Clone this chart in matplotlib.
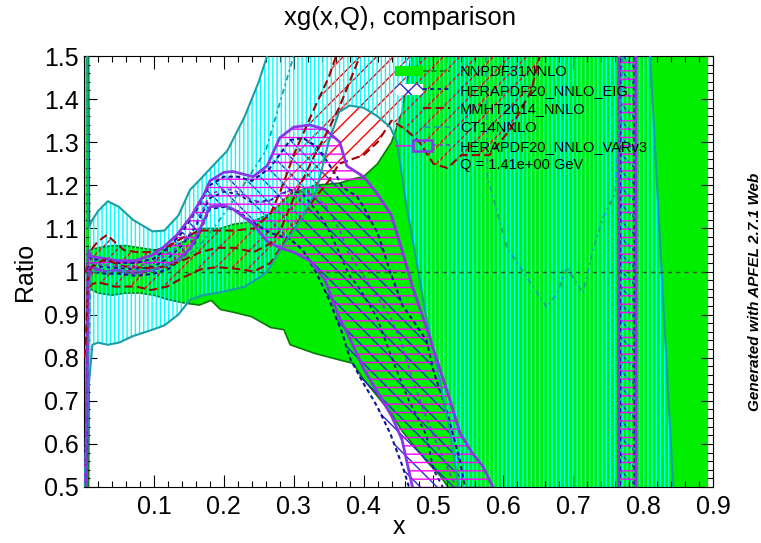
import matplotlib
matplotlib.use('Agg')
import matplotlib.pyplot as plt
from matplotlib.patches import Patch
from matplotlib.lines import Line2D
from matplotlib.legend_handler import HandlerTuple
from matplotlib.ticker import MultipleLocator, FixedLocator

plt.rcParams['font.family'] = ['Liberation Sans', 'DejaVu Sans']
plt.rcParams['hatch.linewidth'] = 1.0

# ---------------- data ----------------
labels = ["NNPDF31NNLO", "HERAPDF20_NNLO_EIG", "MMHT2014_NNLO", "CT14NNLO",
          "HERAPDF20_NNLO_VARv3", "Q = 1.41e+00 GeV"]
x_ticks = [0.1, 0.2, 0.3, 0.4, 0.5, 0.6, 0.7, 0.8, 0.9]
y_ticks = [0.5, 0.6, 0.7, 0.8, 0.9, 1.0, 1.1, 1.2, 1.3, 1.4, 1.5]
y_ticklabels = ["0.5", "0.6", "0.7", "0.8", "0.9", "1", "1.1", "1.2", "1.3", "1.4", "1.5"]

# NNPDF31NNLO (reference, central = 1)
nn_x = [0.0005, 0.005, 0.008, 0.02, 0.04, 0.06, 0.08, 0.10, 0.12, 0.143, 0.165, 0.182, 0.195,
        0.215, 0.24, 0.267, 0.286, 0.295, 0.33, 0.365, 0.385, 0.40, 0.42, 0.44, 0.455, 0.47,
        0.49, 0.51, 0.525, 0.55, 0.70, 0.893]
nn_hi = [2.0, 2.0, 1.05, 1.055, 1.06, 1.06, 1.055, 1.05, 1.055, 1.07, 1.10, 1.10, 1.10,
         1.11, 1.115, 1.135, 1.165, 1.18, 1.20, 1.205, 1.215, 1.22, 1.25, 1.30, 1.37, 1.52,
         2.0, 2.0, 2.0, 2.0, 2.0, 2.0]
nn_lo = [0.0, 0.0, 0.96, 0.95, 0.945, 0.95, 0.95, 0.945, 0.935, 0.927, 0.922, 0.933, 0.912,
         0.905, 0.895, 0.87, 0.865, 0.83, 0.81, 0.795, 0.787, 0.75, 0.71, 0.67, 0.63, 0.60,
         0.56, 0.525, 0.49, 0.3, 0.3, 0.3]
nn_cx = [0.0005, 0.893]
nn_c = [1.0, 1.0]

# HERAPDF20_NNLO_EIG
eg_x = [0.0005, 0.003, 0.006, 0.01, 0.03, 0.05, 0.075, 0.10, 0.12, 0.14, 0.16, 0.18, 0.20,
        0.22, 0.24, 0.266, 0.295, 0.313, 0.333, 0.342, 0.352, 0.362, 0.37, 0.38, 0.39, 0.40,
        0.413, 0.42, 0.438, 0.456, 0.465, 0.49, 0.50, 0.52, 0.538, 0.545, 0.56, 0.767, 0.768,
        0.787, 0.788, 0.893]
eg_hi = [0.4, 0.55, 1.04, 1.03, 1.025, 1.02, 1.02, 1.03, 1.055, 1.09, 1.14, 1.2, 1.22,
         1.22, 1.21, 1.24, 1.305, 1.31, 1.29, 1.27, 1.245, 1.22, 1.195, 1.185, 1.175, 1.15,
         1.11, 1.09, 1.0, 0.92, 0.9, 0.84, 0.77, 0.67, 0.56, 0.5, 0.4, 0.4, 3.0,
         3.0, 0.4, 0.4]
eg_lo = [0.3, 0.45, 0.98, 1.0, 0.995, 0.995, 0.99, 0.995, 1.005, 1.03, 1.07, 1.145, 1.15,
         1.14, 1.115, 1.09, 1.075, 1.05, 0.995, 0.965, 0.93, 0.887, 0.855, 0.80, 0.77, 0.74,
         0.705, 0.685, 0.625, 0.547, 0.5, 0.4, 0.3, 0.3, 0.3, 0.3, 0.3, 0.3, -1.0,
         -1.0, 0.3, 0.3]
eg_c = [0.35, 0.5, 1.01, 1.015, 1.01, 1.008, 1.005, 1.012, 1.03, 1.06, 1.105, 1.17, 1.185,
        1.18, 1.16, 1.165, 1.19, 1.18, 1.14, 1.12, 1.09, 1.055, 1.025, 0.99, 0.97, 0.945,
        0.91, 0.89, 0.81, 0.735, 0.70, 0.62, 0.54, 0.48, 0.43, 0.4, 0.35, 0.35, 0.35,
        0.35, 0.35, 0.35]

# MMHT2014_NNLO
mm_x = [0.0005, 0.003, 0.006, 0.01, 0.02, 0.033, 0.043, 0.057, 0.075, 0.096, 0.119, 0.143,
        0.167, 0.19, 0.215, 0.243, 0.267, 0.282, 0.30, 0.33, 0.35, 0.365, 0.40, 0.42, 0.44,
        0.46, 0.48, 0.50, 0.52, 0.54, 0.58, 0.61, 0.64, 0.655, 0.70, 0.893]
mm_hi = [1.0, 1.0, 1.03, 1.05, 1.07, 1.085, 1.07, 1.05, 1.045, 1.045, 1.057, 1.08,
         1.095, 1.095, 1.095, 1.10, 1.135, 1.19, 1.27, 1.38, 1.45, 1.52, 2.0, 2.0, 2.0,
         2.0, 2.0, 2.0, 2.0, 2.0, 2.0, 2.0, 2.0, 2.0, 2.0, 2.0]
mm_lo = [0.5, 0.6, 0.95, 0.97, 0.975, 0.97, 0.965, 0.965, 0.965, 0.957, 0.965, 0.987,
         1.005, 1.01, 1.007, 1.0, 1.02, 1.057, 1.10, 1.17, 1.21, 1.25, 1.27, 1.30, 1.35,
         1.33, 1.30, 1.25, 1.24, 1.27, 1.27, 1.33, 1.42, 1.52, 2.0, 2.0]
mm_c = [0.8, 0.85, 0.99, 1.01, 1.02, 1.03, 1.02, 1.012, 1.01, 1.008, 1.012, 1.027,
        1.045, 1.055, 1.055, 1.045, 1.065, 1.10, 1.17, 1.27, 1.33, 1.38, 1.52, 2.0, 2.0,
        2.0, 2.0, 2.0, 2.0, 2.0, 2.0, 2.0, 2.0, 2.0, 2.0, 2.0]

# CT14NNLO
ct_x = [0.0005, 0.003, 0.006, 0.012, 0.02, 0.034, 0.05, 0.07, 0.098, 0.115, 0.135, 0.152,
        0.17, 0.19, 0.205, 0.23, 0.25, 0.262, 0.285, 0.31, 0.333, 0.35, 0.365, 0.38, 0.40,
        0.42, 0.438, 0.448, 0.46, 0.475, 0.49, 0.505, 0.524, 0.536, 0.60, 0.70, 0.80, 0.81,
        0.843, 0.86]
ct_hi = [2.0, 2.0, 1.10, 1.12, 1.14, 1.163, 1.15, 1.12, 1.093, 1.095, 1.13, 1.19,
         1.22, 1.255, 1.28, 1.36, 1.44, 1.50, 2.0, 2.0, 2.0, 2.0, 2.0, 2.0, 2.0,
         2.0, 2.0, 2.0, 2.0, 2.0, 2.0, 2.0, 2.0, 2.0, 2.0, 2.0, 1.8, 1.5,
         0.5, 0.0]
ct_lo = [0.0, 0.4, 0.72, 0.83, 0.835, 0.83, 0.835, 0.85, 0.865, 0.875, 0.90, 0.935,
         0.945, 0.95, 0.955, 0.965, 0.985, 1.00, 1.06, 1.12, 1.19, 1.30, 1.37, 1.385, 1.38,
         1.36, 1.335, 1.30, 1.165, 1.03, 0.89, 0.78, 0.625, 0.5, 0.0, 0.0, 0.0, 0.0,
         0.0, 0.0]
ct_cx = [0.0005, 0.01, 0.05, 0.10, 0.13, 0.16, 0.19, 0.22, 0.26, 0.30, 0.32, 0.565, 0.575,
         0.577, 0.605, 0.634, 0.662, 0.677, 0.691, 0.705, 0.714, 0.728, 0.743, 0.76, 0.775,
         0.80, 0.893]
ct_c = [0.5, 1.0, 1.0, 1.005, 1.02, 1.05, 1.11, 1.18, 1.28, 1.5, 2.0, 2.0, 1.5,
        1.22, 1.056, 0.986, 0.917, 0.95, 1.01, 0.973, 0.95, 1.05, 1.127, 1.18, 1.6,
        2.0, 2.0]

# HERAPDF20_NNLO_VARv3
va_x = [0.0005, 0.003, 0.006, 0.01, 0.029, 0.047, 0.072, 0.096, 0.114, 0.133, 0.153, 0.172,
        0.18, 0.20, 0.213, 0.242, 0.262, 0.28, 0.30, 0.323, 0.345, 0.366, 0.376, 0.40, 0.42,
        0.44, 0.455, 0.47, 0.49, 0.505, 0.524, 0.538, 0.555, 0.571, 0.585, 0.60, 0.765,
        0.766, 0.789, 0.79, 0.893]
va_hi = [0.45, 0.6, 1.05, 1.035, 1.03, 1.025, 1.025, 1.037, 1.057, 1.085, 1.127, 1.18,
         1.21, 1.23, 1.232, 1.22, 1.245, 1.31, 1.335, 1.34, 1.33, 1.30, 1.245, 1.22, 1.18,
         1.13, 1.05, 0.965, 0.87, 0.795, 0.70, 0.625, 0.58, 0.547, 0.5, 0.4, 0.4,
         3.0, 3.0, 0.4, 0.4]
va_lo = [0.3, 0.45, 0.97, 1.01, 1.0, 1.003, 0.996, 1.003, 1.012, 1.025, 1.055, 1.12,
         1.15, 1.153, 1.145, 1.11, 1.07, 1.055, 1.045, 1.025, 0.98, 0.89, 0.86, 0.775, 0.72,
         0.665, 0.61, 0.5, 0.4, 0.35, 0.3, 0.3, 0.3, 0.3, 0.3, 0.3, 0.3,
         -1.0, -1.0, 0.3, 0.3]
va_c = [0.35, 0.5, 1.0, 1.02, 1.015, 1.012, 1.01, 1.02, 1.035, 1.055, 1.09, 1.15,
        1.18, 1.19, 1.19, 1.165, 1.16, 1.18, 1.19, 1.18, 1.155, 1.095, 1.05, 0.99, 0.94,
        0.89, 0.83, 0.75, 0.66, 0.60, 0.53, 0.48, 0.4, 0.35, 0.35, 0.35, 0.35,
        0.35, 0.35, 0.35, 0.35]

# ---------------- styles ----------------
c_green = '#00ee00'
c_green_dark = '#0a7a0a'
c_blue = '#2a2ad0'
c_navy = '#10109a'
c_red = '#ff0000'
c_red_dark = '#a00000'
c_cyan = '#00ffff'
c_teal = '#1a9ea6'
c_mag = '#ff00ff'
c_purple = '#8a35e8'

W, H = 761, 543
fig = plt.figure(figsize=(W / 100, H / 100), dpi=100)
ax = fig.add_axes([84 / W, 1 - 487 / H, (713 - 84) / W, (487 - 56) / H])

# NNPDF
ax.fill_between(nn_x, nn_lo, nn_hi, facecolor=c_green, edgecolor='none', linewidth=0, zorder=1)
ax.plot(nn_x, nn_hi, color=c_green_dark, lw=1.2, zorder=1.1)
ax.plot(nn_x, nn_lo, color=c_green_dark, lw=1.2, zorder=1.1)

# EIG
ax.fill_between(eg_x, eg_lo, eg_hi, facecolor='none', edgecolor=c_blue, hatch='\\\\',
                linewidth=0, zorder=2)
# MMHT
ax.fill_between(mm_x, mm_lo, mm_hi, facecolor='none', edgecolor=c_red, hatch='//',
                linewidth=0, zorder=2.1)
# CT14
ax.fill_between(ct_x, ct_lo, ct_hi, facecolor='none', edgecolor=c_cyan, hatch='||||',
                linewidth=0, zorder=2.2)
# VAR
ax.fill_between(va_x, va_lo, va_hi, facecolor='none', edgecolor=c_mag, hatch='--',
                linewidth=0, zorder=2.3)

# edges
ax.plot(eg_x, eg_hi, color=c_navy, lw=1.5, ls=(0, (2, 1.5)), zorder=3)
ax.plot(eg_x, eg_lo, color=c_navy, lw=1.5, ls=(0, (2, 1.5)), zorder=3)
ax.plot(mm_x, mm_hi, color=c_red_dark, lw=1.5, ls=(0, (4, 2)), zorder=3)
ax.plot(mm_x, mm_lo, color=c_red_dark, lw=1.5, ls=(0, (4, 2)), zorder=3)
ax.plot(ct_x, ct_hi, color=c_teal, lw=1.5, zorder=3)
ax.plot(ct_x, ct_lo, color=c_teal, lw=1.5, zorder=3)
ax.plot(va_x, va_hi, color=c_purple, lw=2.0, zorder=3.2)
ax.plot(va_x, va_lo, color=c_purple, lw=2.0, zorder=3.2)

# central lines
ax.plot(nn_cx, nn_c, color='#335533', lw=1.0, ls=(0, (3, 3)), zorder=4)
ax.plot(eg_x, eg_c, color=c_navy, lw=1.3, ls=(0, (2, 2)), zorder=4)
ax.plot(mm_x, mm_c, color=c_red_dark, lw=1.5, ls=(0, (4, 2)), zorder=4)
ax.plot(ct_cx, ct_c, color=c_teal, lw=1.3, ls=(0, (3, 2, 1, 2)), zorder=4)
ax.plot(va_x, va_c, color=c_purple, lw=1.3, ls=(0, (2, 2)), zorder=4)

ax.set_xlim(0.0, 0.9)
ax.set_ylim(0.5, 1.5)
ax.xaxis.set_major_locator(FixedLocator(x_ticks))
ax.xaxis.set_minor_locator(MultipleLocator(0.02))
ax.set_yticks(y_ticks)
ax.set_yticklabels(y_ticklabels)
ax.yaxis.set_minor_locator(MultipleLocator(0.02))
ax.tick_params(which='both', direction='in', top=True, right=True, width=0.8, labelsize=18)
ax.tick_params(which='major', length=9)
ax.tick_params(which='minor', length=4.5)
ax.tick_params(axis='x', pad=6)
ax.tick_params(axis='y', pad=4)
for s in ax.spines.values():
    s.set_linewidth(0.8)

ax.set_xlabel('x', fontsize=18, va='center')
ax.xaxis.set_label_coords(0.5, (487 - 527) / 431)
ax.set_ylabel('Ratio', fontsize=18, va='center')
ax.yaxis.set_label_coords((25 - 84) / 629, 0.5)
fig.text(400 / W, 1 - 18 / H, 'xg(x,Q), comparison', ha='center', va='center', fontsize=18.5)
fig.text(755 / W, 1 - 292 / H, 'Generated with APFEL 2.7.1 Web', rotation=90, ha='center',
         va='center', fontsize=11, fontweight='bold', fontstyle='italic')

# legend
h_nn = (Patch(facecolor=c_green, edgecolor='none'),
        Line2D([], [], color=c_green_dark, lw=1.2, ls=(0, (3, 2))))
h_eg = (Patch(facecolor='white', edgecolor=c_blue, hatch='xx', lw=0),
        Line2D([], [], color=c_navy, lw=1.3, ls=(0, (2, 2))))
h_mm = (Patch(facecolor='none', edgecolor='none', lw=0),
        Line2D([], [], color=c_red_dark, lw=1.5, ls=(0, (4, 2))))
h_ct = (Patch(facecolor='none', edgecolor='none', lw=0),
        Line2D([], [], color=c_teal, lw=1.3, ls=(0, (4, 2))))
h_va = (Patch(facecolor='none', edgecolor=c_mag, hatch='--', lw=0),
        Patch(facecolor='none', edgecolor=c_purple, lw=1.8),
        Line2D([], [], color=c_purple, lw=1.3, ls=(0, (2, 2))))
h_q = Line2D([], [], linestyle='none')
leg = ax.legend([h_nn, h_eg, h_mm, h_ct, h_va, h_q], labels,
                handler_map={tuple: HandlerTuple(ndivide=None, pad=0)},
                loc='upper left', bbox_to_anchor=(395 / W, 1 - 65 / H),
                bbox_transform=fig.transFigure, frameon=False, fontsize=10.5,
                handlelength=3.8, handleheight=0.75, handletextpad=0.65,
                labelspacing=0.32, borderpad=0, borderaxespad=0)
leg.set_zorder(10)

fig.savefig('out.png', dpi=100)
